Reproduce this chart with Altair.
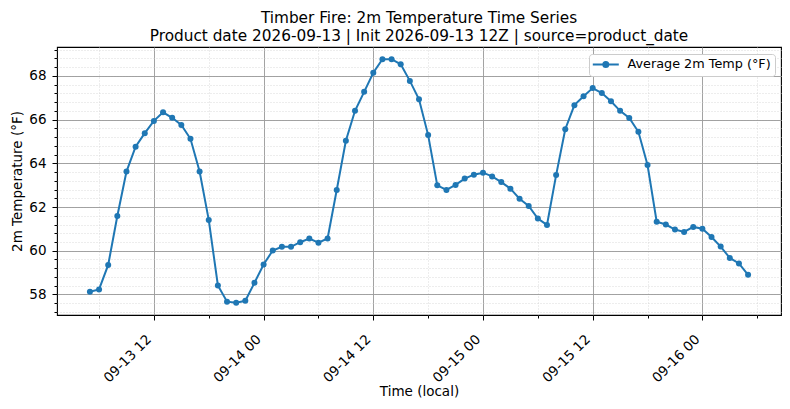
import altair as alt
import numpy as np
import pandas as pd

# hourly forecast, local time
times = pd.date_range('2026-09-13 05:00', periods=73, freq='h')
temps_f = [
    58.12, 58.23, 59.35, 61.59, 63.62, 64.76, 65.38, 65.94, 66.33, 66.08,
    65.75, 65.12, 63.62, 61.41, 58.41, 57.67, 57.62, 57.71, 58.53, 59.37,
    60.01, 60.18, 60.18, 60.39, 60.56, 60.37, 60.56, 62.78, 65.03, 66.40,
    67.27, 68.14, 68.76, 68.76, 68.53, 67.77, 66.93, 65.29, 62.99, 62.78,
    63.01, 63.30, 63.48, 63.57, 63.40, 63.14, 62.84, 62.38, 62.05, 61.47,
    61.18, 63.46, 65.56, 66.66, 67.07, 67.44, 67.21, 66.84, 66.40, 66.07,
    65.44, 63.92, 61.33, 61.20, 60.97, 60.86, 61.09, 61.01, 60.63, 60.19,
    59.67, 59.42, 58.90,
]
series_name = 'Average 2m Temp (°F)'

df = pd.DataFrame({
    'time': times.strftime('%Y-%m-%dT%H:%M:%S'),
    'temp': temps_f,
    'series': series_name,
})

FONT = 'DejaVu Sans'
BLUE = '#1f77b4'


def dt(day, hour, minute=0):
    return alt.DateTime(year=2026, month=9, date=day, hours=hour, minutes=minute)


x_major = [dt(13, 12), dt(14, 0), dt(14, 12), dt(15, 0), dt(15, 12), dt(16, 0)]
x_minor = [dt(13, 6), dt(13, 18), dt(14, 6), dt(14, 18), dt(15, 6), dt(15, 18), dt(16, 6)]
y_major = [58, 60, 62, 64, 66, 68]
y_minor = [round(v, 1) for v in np.arange(57.2, 69.3, 0.4)]

x_scale = alt.Scale(domain=[dt(13, 1, 24), dt(16, 8, 36)])
y_scale = alt.Scale(domain=[57.06, 69.32], nice=False, zero=False)

# minor ticks + dotted grid
minor = alt.Chart(df).mark_line(opacity=0).encode(
    x=alt.X('time:T', scale=x_scale,
            axis=alt.Axis(orient='bottom', values=x_minor, labels=False, title=None,
                          domain=False, tickSize=3, tickColor='black',
                          grid=True, gridColor='#d0d0d0', gridDash=[1, 2], gridWidth=0.8)),
    y=alt.Y('temp:Q', scale=y_scale,
            axis=alt.Axis(orient='left', values=y_minor, labels=False, title=None,
                          domain=False, tickSize=3, tickColor='black',
                          grid=True, gridColor='#d0d0d0', gridDash=[1, 2], gridWidth=0.8)),
)

x_axis = alt.Axis(orient='bottom', values=x_major, format='%m-%d %H', title='Time (local)',
                  labelAngle=-45, labelAlign='right', labelBaseline='top',
                  labelFontSize=13.5, labelFont=FONT, labelColor='black',
                  labelPadding=12, labelOffset=-10,
                  titleFontSize=13.5, titleFont=FONT, titleFontWeight='normal',
                  titleColor='black', titlePadding=0,
                  tickSize=5, tickColor='black', domain=False,
                  grid=True, gridColor='#999999', gridWidth=0.9)
y_axis = alt.Axis(orient='left', values=y_major, title='2m Temperature (°F)',
                  labelFontSize=13.5, labelFont=FONT, labelColor='black', labelPadding=6,
                  titleFontSize=13.5, titleFont=FONT, titleFontWeight='normal',
                  titleColor='black', titlePadding=4,
                  tickSize=5, tickColor='black', domain=False,
                  grid=True, gridColor='#999999', gridWidth=0.9)

color = alt.Color('series:N', scale=alt.Scale(range=[BLUE]),
                  legend=alt.Legend(title=None, orient='none', legendX=532, legendY=7,
                                    symbolType='M-2.6,0H2.6M0.5,0A0.5,0.5 0 1,1 -0.5,0A0.5,0.5 0 1,1 0.5,0',
                                    symbolSize=100, symbolStrokeWidth=2, symbolFillColor=BLUE,
                                    symbolOffset=6.4, labelOffset=15.3,
                                    labelFontSize=12.8, labelFont=FONT, labelColor='black',
                                    padding=4, strokeColor='#cccccc', fillColor='white',
                                    cornerRadius=3))

line = alt.Chart(df).mark_line(strokeWidth=2).encode(
    x=alt.X('time:T', scale=x_scale, axis=x_axis),
    y=alt.Y('temp:Q', scale=y_scale, axis=y_axis),
    color=color,
)
points = alt.Chart(df).mark_circle(size=36, opacity=1).encode(
    x=alt.X('time:T', scale=x_scale, axis=x_axis),
    y=alt.Y('temp:Q', scale=y_scale, axis=y_axis),
    color=alt.Color('series:N', scale=alt.Scale(range=[BLUE]), legend=None),
)

chart = alt.layer(minor, line + points).resolve_axis(
    x='independent', y='independent'
).properties(
    width=724,
    height=268,
    autosize=alt.AutoSizeParams(type='none'),
    padding={'left': 49, 'top': 39, 'right': 1, 'bottom': 86},
    title=alt.Title(
        ['Timber Fire: 2m Temperature Time Series',
         'Product date 2026-09-13 | Init 2026-09-13 12Z | source=product_date'],
        font=FONT, fontSize=15.3, fontWeight='normal', color='black',
        lineHeight=18, offset=3, anchor='middle',
    ),
).configure_view(stroke='black', strokeWidth=1.1)

chart.save('out.html', embed_options={'renderer': 'svg', 'actions': False})
